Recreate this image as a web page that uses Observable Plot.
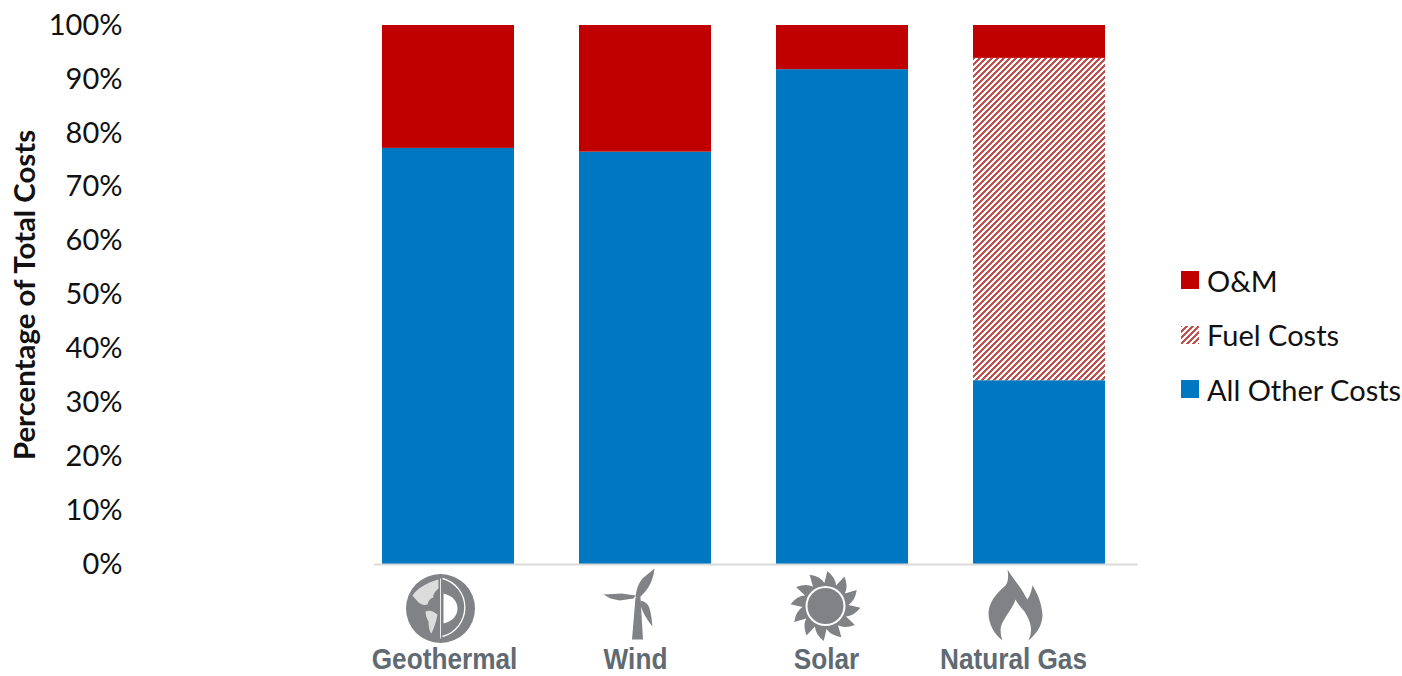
<!DOCTYPE html>
<html>
<head>
<meta charset="utf-8">
<script src="https://cdn.jsdelivr.net/npm/d3@7"></script>
<script src="https://cdn.jsdelivr.net/npm/@observablehq/plot@0.6"></script>
<style>
html,body{margin:0;padding:0;background:#fff;overflow:hidden}
#chart{position:relative;width:1402px;height:676px}
#legend{position:absolute;left:1181px;top:253px;font:29px Lato,sans-serif;color:#111}
.row{display:flex;align-items:center;height:54.5px;white-space:nowrap}
.row svg{margin-right:8px;flex:none}
</style>
</head>
<body>
<div id="chart"></div>
<script>
const categories = ["Geothermal", "Wind", "Solar", "Natural Gas"];
const series = ["All Other Costs", "Fuel Costs", "O&M"];
const allOther = [77.2, 76.5, 91.8, 34.1];
const fuel = [0, 0, 0, 59.8];
const om = [22.8, 23.5, 8.2, 6.1];
const yTicks = [0, 10, 20, 30, 40, 50, 60, 70, 80, 90, 100];
const legendOrder = ["O&M", "Fuel Costs", "All Other Costs"];

const blue = "#0078c1", red = "#c00000", hatchColor = "#c0504d", iconGrey = "#808285";
const colours = [blue, "url(#hatch)", red];

const rows = [];
categories.forEach((c, i) => {
  rows.push({category: c, series: series[0], value: allOther[i]});
  rows.push({category: c, series: series[1], value: fuel[i]});
  rows.push({category: c, series: series[2], value: om[i]});
});

// Icons: drawn in an 80x80 box
const sunPath = (() => {
  const n = 12, pts = [];
  for (let k = 0; k < n; k++) {
    const a = (k / n) * 2 * Math.PI - 1.52;
    const b = a + 0.30, c = a + 2 * Math.PI / n;
    pts.push(`${k ? "L" : "M"}${(40 + 35 * Math.cos(a)).toFixed(1)} ${(39.5 + 35 * Math.sin(a)).toFixed(1)}`);
    pts.push(`Q${(40 + 30 * Math.cos(b)).toFixed(1)} ${(39.5 + 30 * Math.sin(b)).toFixed(1)} ${(40 + 23 * Math.cos(c - 0.1)).toFixed(1)} ${(39.5 + 23 * Math.sin(c - 0.1)).toFixed(1)}`);
  }
  return pts.join("") + "Z";
})();
const icons = [
  `<circle cx="40" cy="40" r="34.5" fill="${iconGrey}"/>
   <path d="M12 27C16 21 24 15 38 11L38 20C34 23 32 27 33 29C29 30 28 33 27 36C23 37 20 36 17 33C15 30 13 29 12 27Z" fill="#dcdcdd"/>
   <path d="M25 43C29 41 33 43 37 46C36 52 34 58 31 65C29 64 28 57 28 53C26 50 25 46 25 43Z" fill="#dcdcdd"/>
   <path d="M40 10V70" stroke="#e8e8e8" stroke-width="1" fill="none"/>
   <path d="M43 25C52 27 57 33 57 40C57 47 52 53 43 55Z" fill="#fff"/>
   <path d="M42 10A30 30 0 0 1 42 68" stroke="#fff" stroke-width="1.3" fill="none"/>`,
  `<path d="M40 33L45 33L47.5 75L36.5 75Z" fill="${iconGrey}"/>
   <path d="M40 32C41 26 42 20 47 14L59 4C58 14 54 24 46 31L43 35Z" fill="${iconGrey}"/>
   <path d="M8 30L26 29L40 31L38 34L24 36L15 34Z" fill="${iconGrey}"/>
   <path d="M45 36C54 38 55 44 57 62C51 55 47 47 45 41Z" fill="${iconGrey}"/>`,
  `<path d="${sunPath}" fill="${iconGrey}"/>
   <circle cx="40" cy="39.5" r="20" fill="#fff"/>
   <circle cx="40" cy="39.5" r="18" fill="${iconGrey}"/>`,
  `<path d="M32 3C38 13 45 20 50 30L52 33C55 28 56 24 57 19C62 27 66 36 67 48C67 60 60 68 53 74C58 63 55 55 49 45C45 40 42 37 40 33C38 40 32 47 27 56C24 62 25 68 27 74C19 68 13 58 13 46C14 34 22 26 30 19C33 15 33 9 32 3Z" fill="${iconGrey}"/>`
];
const iconSrc = icons.map(s => "data:image/svg+xml," + encodeURIComponent(
  `<svg xmlns="http://www.w3.org/2000/svg" viewBox="0 0 80 80" width="80" height="80">${s}</svg>`));
const iconDx = [-8, -10, -17, -24];
const iconDy = [44, 40, 42, 42];
const labelDx = [-4, -10, -16, -26];

const hatchPath = "M-1.5 1.5L1.5 -1.5M-1.5 7.5L7.5 -1.5M4.5 7.5L7.5 4.5";
const hatchDefs = () => {
  const defs = d3.create("svg:defs");
  const p = defs.append("pattern").attr("id", "hatch").attr("patternUnits", "userSpaceOnUse")
    .attr("width", 6).attr("height", 6);
  p.append("rect").attr("width", 6).attr("height", 6).attr("fill", "#fff");
  p.append("path").attr("d", hatchPath)
    .attr("stroke", hatchColor).attr("stroke-width", 2.2).attr("fill", "none").attr("shape-rendering", "crispEdges");
  return defs.node();
};

const plot = Plot.plot({
  width: 1402,
  height: 676,
  marginLeft: 349.5,
  marginRight: 264.5,
  marginTop: 25,
  marginBottom: 112,
  style: {background: "#fff", overflow: "visible"},
  x: {domain: categories, paddingInner: 0.33, paddingOuter: 0.165, axis: null},
  y: {domain: [0, 100], axis: null},
  color: {domain: series, range: colours},
  marks: [
    hatchDefs,
    Plot.barY(rows, {x: "category", y: "value", fill: "series", order: series}),
    Plot.ruleY([0], {stroke: "#d9d9d9", strokeWidth: 2, insetLeft: 24.5}),
    Plot.text(yTicks, {
      y: d => d, text: d => d + "%", frameAnchor: "left", textAnchor: "end",
      dx: -227.5, fontFamily: "Lato, sans-serif", fontSize: 29, fill: "#111"
    }),
    Plot.text(["Percentage of Total Costs"], {
      text: d => d, y: 50, frameAnchor: "left", textAnchor: "middle", rotate: -90, dx: -324,
      fontFamily: "Lato, sans-serif", fontWeight: "bold", fontSize: 29.4, fill: "#111"
    }),
    ...categories.map((c, i) => Plot.image([c], {
      x: d => d, src: () => iconSrc[i], width: 80, height: 80,
      frameAnchor: "bottom", dx: iconDx[i], dy: iconDy[i]
    })),
    ...categories.map((c, i) => Plot.text([c], {
      x: d => d, text: d => d, frameAnchor: "bottom", dx: labelDx[i], dy: 104,
      fontFamily: "'Liberation Sans', sans-serif",
      fontWeight: "bold", fontSize: 30, fill: "#5f6a72",
      className: "cat-label"
    }))
  ]
});
const chart = document.getElementById("chart");
chart.appendChild(plot);

// The reference's category labels are a narrow face: condense the same text.
plot.querySelectorAll(".cat-label text").forEach(t => {
  const len = t.getComputedTextLength();
  t.setAttribute("textLength", (len * 0.873).toFixed(1));
  t.setAttribute("lengthAdjust", "spacingAndGlyphs");
});

const legend = document.createElement("div");
legend.id = "legend";
legendOrder.forEach(name => {
  const fill = colours[series.indexOf(name)];
  const row = document.createElement("div");
  row.className = "row";
  row.innerHTML = `<svg width="18" height="18"><defs><pattern id="hatch2" patternUnits="userSpaceOnUse" width="6" height="6"><rect width="6" height="6" fill="#fff"/><path d="${hatchPath}" stroke="${hatchColor}" stroke-width="2.2" shape-rendering="crispEdges"/></pattern></defs><rect width="18" height="18" fill="${fill === "url(#hatch)" ? "url(#hatch2)" : fill}"/></svg>`;
  row.appendChild(document.createTextNode(name));
  legend.appendChild(row);
});
chart.appendChild(legend);
</script>
</body>
</html>
